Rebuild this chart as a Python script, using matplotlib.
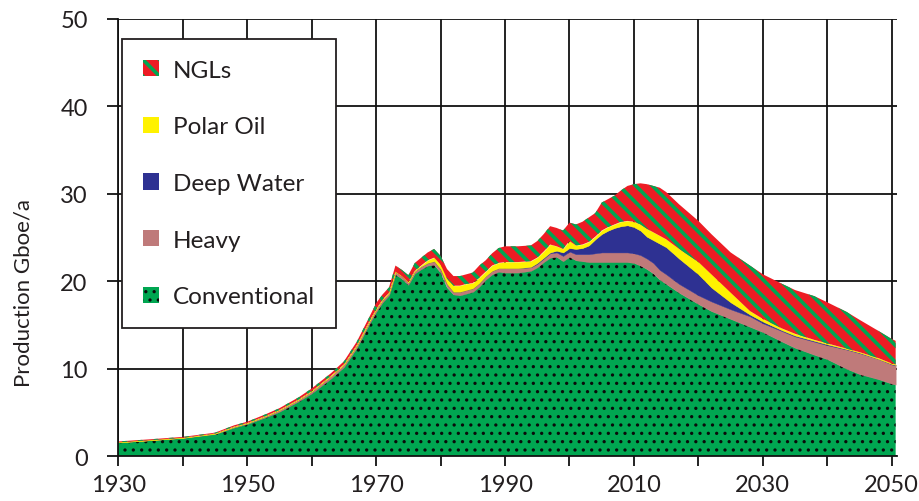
import numpy as np
import matplotlib
matplotlib.use("Agg")
import matplotlib.pyplot as plt
from matplotlib.patches import Patch

plt.rcParams['font.family'] = ['Lato', 'DejaVu Sans']

years = [1930, 1935, 1940, 1945, 1948, 1950, 1953, 1955, 1958, 1960, 1963, 1965, 1967,
         1969, 1970, 1971, 1972, 1973, 1974, 1975, 1976, 1977, 1978, 1979, 1980, 1981,
         1982, 1983, 1984, 1985, 1986, 1987, 1988, 1989, 1990, 1992, 1994, 1995, 1996,
         1997, 1998, 1999, 2000, 2001, 2002, 2003, 2004, 2005, 2006, 2007, 2008, 2009,
         2010, 2011, 2012, 2013, 2014, 2015, 2017, 2020, 2022, 2025, 2028, 2030, 2033,
         2035, 2038, 2040, 2043, 2045, 2048, 2050, 2050.6]

conventional = [1.6, 1.85, 2.1, 2.55, 3.3, 3.7, 4.5, 5.1, 6.3, 7.2, 8.9, 10.2, 12.4,
                15.2, 16.5, 17.6, 18.4, 20.8, 20.3, 19.6, 20.9, 21.4, 21.8, 21.9, 21.0, 19.3,
                18.5, 18.4, 18.6, 18.8, 19.4, 20.2, 20.8, 21.1, 21.0, 21.0, 21.2, 21.6, 22.2,
                22.7, 22.8, 22.3, 22.8, 22.4, 22.3, 22.2, 22.2, 22.2, 22.2, 22.2, 22.2, 22.2,
                22.1, 21.8, 21.4, 20.9, 20.2, 19.7, 18.7, 17.4, 16.6, 15.7, 14.8, 14.2, 13.1,
                12.4, 11.6, 11.1, 10.0, 9.4, 8.8, 8.3, 8.2]
heavy = [0.0, 0.0, 0.02, 0.05, 0.1, 0.1, 0.15, 0.2, 0.2, 0.25, 0.3, 0.3, 0.3,
         0.3, 0.3, 0.3, 0.3, 0.3, 0.3, 0.3, 0.3, 0.3, 0.3, 0.4, 0.4, 0.4,
         0.3, 0.4, 0.4, 0.4, 0.4, 0.4, 0.4, 0.4, 0.5, 0.5, 0.4, 0.4, 0.4,
         0.5, 0.5, 0.6, 0.6, 0.7, 0.8, 0.9, 1.0, 1.1, 1.1, 1.1, 1.1, 1.1,
         1.1, 1.2, 1.2, 1.2, 1.1, 1.1, 1.0, 1.0, 1.1, 1.1, 1.2, 1.0, 1.2,
         1.3, 1.5, 1.6, 2.2, 2.4, 2.3, 2.2, 2.2]
deep_water = [0, 0, 0, 0, 0, 0, 0, 0, 0, 0, 0, 0, 0,
              0, 0, 0, 0, 0, 0, 0, 0, 0, 0, 0, 0, 0,
              0, 0, 0, 0, 0, 0, 0, 0, 0, 0, 0.05, 0.1, 0.1,
              0.1, 0.2, 0.4, 0.4, 0.6, 0.7, 1.0, 1.6, 2.1, 2.5, 2.8, 3.0, 3.1,
              3.0, 2.8, 2.5, 2.6, 3.0, 3.1, 2.9, 2.4, 1.6, 0.8, 0.2, 0.2, 0.1,
              0.1, 0.1, 0.1, 0.05, 0.05, 0.0, 0.05, 0.05]
polar_oil = [0, 0, 0, 0, 0, 0, 0, 0, 0, 0, 0, 0, 0,
             0, 0, 0, 0, 0, 0, 0, 0, 0.1, 0.3, 0.4, 0.5, 0.6,
             0.7, 0.7, 0.7, 0.6, 0.6, 0.5, 0.6, 0.6, 0.7, 0.7, 0.65, 0.6, 0.7,
             0.9, 0.5, 0.4, 0.8, 0.4, 0.4, 0.4, 0.3, 0.4, 0.4, 0.4, 0.5, 0.5,
             0.6, 0.7, 0.9, 0.9, 0.9, 0.9, 1.1, 1.4, 1.5, 1.1, 0.4, 0.3, 0.2,
             0.2, 0.1, 0.1, 0.05, 0.05, 0.1, 0.05, 0.05]
ngls = [0.1, 0.1, 0.1, 0.1, 0.15, 0.15, 0.2, 0.2, 0.25, 0.3, 0.3, 0.35, 0.4,
        0.5, 0.7, 0.6, 0.6, 0.7, 0.7, 0.8, 0.9, 0.9, 0.9, 1.0, 1.0, 1.1,
        1.1, 1.1, 1.1, 1.2, 1.4, 1.3, 1.4, 1.7, 1.8, 1.8, 1.8, 1.9, 2.0,
        2.1, 2.1, 2.1, 2.1, 2.4, 2.6, 2.8, 2.7, 3.2, 3.2, 3.3, 3.6, 4.0,
        4.3, 4.7, 5.1, 5.3, 5.5, 5.4, 5.1, 4.7, 4.6, 4.6, 5.2, 5.1, 5.1,
        5.0, 5.0, 4.7, 4.2, 3.7, 3.1, 2.8, 2.7]

labels = ["Conventional", "Heavy", "Deep Water", "Polar Oil", "NGLs"]
face_colors = ["#00a651", "#bf7a7a", "#2e3192", "#fff200", "#ed1c24"]
hatch_colors = ["#0a0a0a", "#bf7a7a", "#2e3192", "#fff200", "#00a651"]
hatches = ["..", None, None, None, "\\\\"]
hatch_lws = [1.15, 1.0, 1.0, 1.0, 2.6]

x_ticks = list(range(1930, 2051, 10))
x_ticklabels = ["1930", "", "1950", "", "1970", "", "1990", "", "2010", "", "2030", "", "2050"]
y_ticks = [0, 10, 20, 30, 40, 50]


def with_hatch_lw(artist, lw):
    if hasattr(artist, 'set_hatch_linewidth'):
        artist.set_hatch_linewidth(lw)
    orig = artist.draw

    def draw(renderer, _orig=orig, _lw=lw):
        with plt.rc_context({'hatch.linewidth': _lw}):
            _orig(renderer)
    artist.draw = draw
    return artist


fig = plt.figure(figsize=(9.19, 5.02), dpi=100)
ax = fig.add_axes([0.1287, 0.089, 0.8473, 0.8716])

series = [conventional, heavy, deep_water, polar_oil, ngls]
base = np.zeros(len(years))
for vals, fc, hc, h, hlw in zip(series, face_colors, hatch_colors, hatches, hatch_lws):
    top = base + np.array(vals)
    if h is None:
        coll = ax.fill_between(years, base, top, facecolor=fc, edgecolor=fc,
                               linewidth=0.3, zorder=3)
    else:
        with plt.rc_context({'hatch.linewidth': hlw}):
            coll = ax.fill_between(years, base, top, facecolor=fc, edgecolor=hc,
                                   hatch=h, linewidth=0, zorder=3)
        with_hatch_lw(coll, hlw)
    base = top

ax.set_xlim(1930, 2050.8)
ax.set_ylim(0, 50)
ax.set_xticks(x_ticks)
ax.set_xticklabels(x_ticklabels)
ax.set_yticks(y_ticks)
ax.tick_params(axis='both', direction='out', labelsize=17, width=1.3,
               colors='#111111', labelcolor='#231f20')
ax.tick_params(axis='y', length=8, pad=14)
ax.tick_params(axis='x', length=7, pad=6)
ax.grid(True, color='#111111', linewidth=1.3)
ax.set_axisbelow(True)
for side in ['top', 'right']:
    ax.spines[side].set_visible(False)
for side in ['left', 'bottom']:
    ax.spines[side].set_linewidth(1.3)
    ax.spines[side].set_color('#111111')
    ax.spines[side].set_zorder(4)

ax.set_ylabel("Production Gboe/a", fontsize=16, color='#231f20')
ax.yaxis.set_label_coords(-0.109, 0.3755)

handles = []
for lab, fc, hc, h in reversed(list(zip(labels, face_colors, hatch_colors, hatches))):
    handles.append(Patch(facecolor=fc, edgecolor=hc if h else fc, hatch=h,
                         linewidth=0, label=lab))

leg = ax.legend(handles=handles, loc='upper left', bbox_to_anchor=(0.005, 0.954),
                borderaxespad=0, fontsize=17.5, frameon=True, fancybox=False,
                framealpha=1, edgecolor='#231f20', handlelength=0.65, handleheight=0.65,
                handletextpad=0.6, labelspacing=1.47, borderpad=0.85)
leg.get_frame().set_linewidth(1.3)
leg.set_zorder(6)
for t in leg.get_texts():
    t.set_color('#231f20')
for hnd, hlw in zip(leg.legend_handles, list(reversed(hatch_lws))):
    with_hatch_lw(hnd, hlw)

fig.savefig("out.png", dpi=100)
